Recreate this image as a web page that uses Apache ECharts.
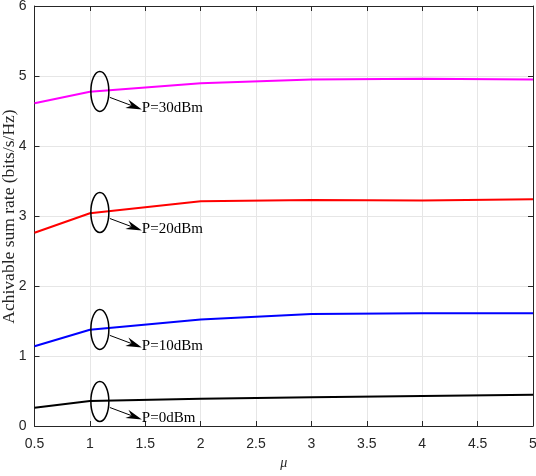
<!DOCTYPE html>
<html>
<head>
<meta charset="utf-8">
<script src="https://cdn.jsdelivr.net/npm/echarts@6/dist/echarts.min.js"></script>
<style>html,body{margin:0;padding:0;background:#fff;}#c{width:536px;height:476px;}</style>
</head>
<body>
<div id="c"></div>
<script>
var muValues = [0.5, 1, 2, 3, 4, 5];
var p0dBm  = [0.26, 0.357, 0.39, 0.41, 0.43, 0.447];
var p10dBm = [1.14, 1.376, 1.52, 1.60, 1.61, 1.61];
var p20dBm = [2.76, 3.04, 3.21, 3.23, 3.22, 3.24];
var p30dBm = [4.61, 4.776, 4.895, 4.95, 4.96, 4.95];
var annotLabels = ['P=0dBm', 'P=10dBm', 'P=20dBm', 'P=30dBm'];
var annotX = [1.09, 1.09, 1.09, 1.09];
var annotY = [0.35, 1.38, 3.05, 4.78];
var yTitle = 'Achivable sum rate (bits/s/Hz)';
var xTitle = 'μ';

function pairs(xs, ys){ return xs.map(function(x,i){ return [x, ys[i]]; }); }

var chart = echarts.init(document.getElementById('c'));
var axisColor = '#262626';
var tickFont = {color: axisColor, fontSize: 14, fontFamily: 'Liberation Sans, Arial, sans-serif'};

function lineSeries(data, color){
  return {type:'line', data: pairs(muValues, data), showSymbol:false, symbol:'none',
    lineStyle:{color:color, width:2}, itemStyle:{color:color}, z:3};
}

chart.setOption({
  animation:false,
  backgroundColor:'#fff',
  grid:{left:34.5, right:3, top:6, bottom:50, containLabel:false, outerBoundsMode:'none'},
  graphic:[{
    type:'text', x:9, y:216.5, rotation:Math.PI/2,
    style:{text:yTitle, textAlign:'center', textVerticalAlign:'middle',
      font:'17.5px "Liberation Serif", "Times New Roman", serif', fill:axisColor}
  }],
  xAxis:[{
    type:'value', min:0.5, max:5, interval:0.5,
    name:xTitle, nameLocation:'middle', nameGap:25,
    nameTextStyle:{color:axisColor, fontSize:14, fontStyle:'italic', fontFamily:'Liberation Serif, Times New Roman, serif'},
    axisLine:{show:true, onZero:false, lineStyle:{color:axisColor, width:1}},
    axisTick:{show:true, inside:true, length:5, lineStyle:{color:axisColor}},
    axisLabel:Object.assign({margin:11}, tickFont),
    splitLine:{show:true, lineStyle:{color:'#e6e6e6', width:1}}
  },{
    type:'value', position:'top', min:0.5, max:5, interval:0.5,
    axisLine:{show:true, onZero:false, lineStyle:{color:axisColor, width:1}},
    axisTick:{show:true, inside:true, length:5, lineStyle:{color:axisColor}},
    axisLabel:{show:false}, splitLine:{show:false}
  }],
  yAxis:[{
    type:'value', min:0, max:6, interval:1,
    axisLine:{show:true, onZero:false, lineStyle:{color:axisColor, width:1}},
    axisTick:{show:true, inside:true, length:5, lineStyle:{color:axisColor}},
    axisLabel:Object.assign({margin:8}, tickFont),
    splitLine:{show:true, lineStyle:{color:'#e6e6e6', width:1}}
  },{
    type:'value', position:'right', min:0, max:6, interval:1,
    axisLine:{show:true, onZero:false, lineStyle:{color:axisColor, width:1}},
    axisTick:{show:true, inside:true, length:5, lineStyle:{color:axisColor}},
    axisLabel:{show:false}, splitLine:{show:false}
  }],
  series:[
    lineSeries(p0dBm, '#000000'),
    lineSeries(p10dBm, '#0000ff'),
    lineSeries(p20dBm, '#ff0000'),
    lineSeries(p30dBm, '#ff00ff'),
    {
      type:'custom', z:5,
      data: annotX.map(function(x,i){ return [x, annotY[i]]; }),
      renderItem:function(params, api){
        var c = api.coord([api.value(0), api.value(1)]);
        var i = params.dataIndex;
        var sx = c[0]+10, sy = c[1]+6, tx = c[0]+42, ty = c[1]+18;
        var dx = tx-sx, dy = ty-sy, L = Math.sqrt(dx*dx+dy*dy);
        var ux = dx/L, uy = dy/L, px = -uy, py = ux;
        var hl = 16, hw = 4.5;
        var bx = tx-hl*ux, by = ty-hl*uy;
        var nx = tx-(hl-5)*ux, ny = ty-(hl-5)*uy;
        return {type:'group', children:[
          {type:'ellipse', shape:{cx:c[0], cy:c[1], rx:9, ry:20},
            style:{fill:null, stroke:'#000', lineWidth:1.5}},
          {type:'line', shape:{x1:sx, y1:sy, x2:nx, y2:ny},
            style:{stroke:'#000', lineWidth:1}},
          {type:'polygon', shape:{points:[[tx,ty],[bx+hw*px, by+hw*py],[nx,ny],[bx-hw*px, by-hw*py]]},
            style:{fill:'#000'}},
          {type:'text', style:{text:annotLabels[i], x:tx, y:ty-1, textAlign:'left', textVerticalAlign:'middle',
            font:'15px "Liberation Serif", "Times New Roman", serif', fill:'#000'}}
        ]};
      }
    }
  ]
});
</script>
</body>
</html>
